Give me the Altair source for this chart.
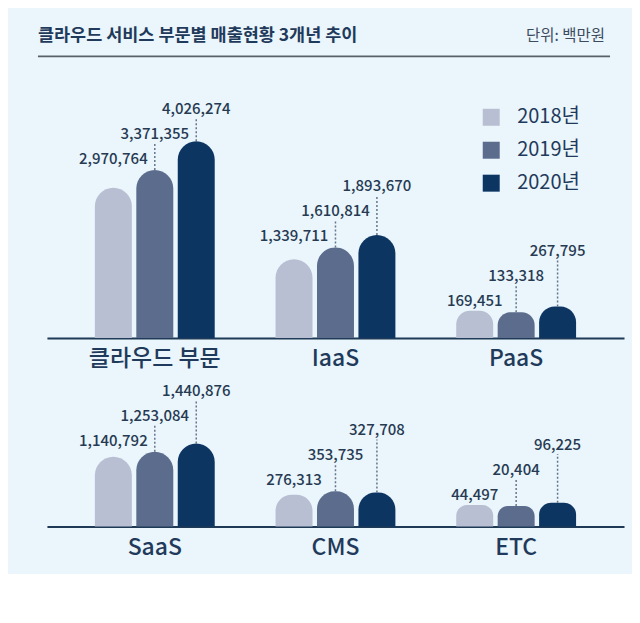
import altair as alt
import pandas as pd

TITLE = "클라우드 서비스 부문별 매출현황 3개년 추이"
UNIT = "단위: 백만원"

categories = ["클라우드 부문", "IaaS", "PaaS", "SaaS", "CMS", "ETC"]
rows = [1, 1, 1, 2, 2, 2]
years = ["2018년", "2019년", "2020년"]
sales_2018 = [2970764, 1339711, 169451, 1140792, 276313, 44497]
sales_2019 = [3371355, 1610814, 133318, 1253084, 353735, 20404]
sales_2020 = [4026274, 1893670, 267795, 1440876, 327708, 96225]
colors = ["#b9bfd2", "#5b6c8d", "#0d3562"]

F = "Noto Sans CJK KR"
NAVY = "#1f3a5a"
PX = 1e6 / 44.0          # data units per pixel
BASE = -0.45e6           # bar floor (stylised infographic base)

records = []
for i, c in enumerate(categories):
    vals = [sales_2018[i], sales_2019[i], sales_2020[i]]
    for j, y in enumerate(years):
        lp = vals[1] + (36 + 25 * (j - 1)) * PX
        records.append(dict(cat=c, year=y, value=vals[j], row=rows[i],
                            label_pos=lp, rule_top=lp - 9 * PX))
df = pd.DataFrame(records)

legend = alt.Legend(title=None, orient="none", legendX=435, legendY=89,
                    symbolType="square", symbolSize=289, symbolStrokeWidth=0,
                    labelFontSize=20, labelFont=F, labelColor=NAVY,
                    rowPadding=13, labelOffset=16)


def row_chart(r, height):
    d = df[df.row == r]
    cats = [c for c, rr in zip(categories, rows) if rr == r]
    ymax = height * PX + BASE
    yscale = alt.Scale(domain=[BASE, ymax], nice=False, zero=False)
    x = alt.X("cat:N", sort=cats,
              scale=alt.Scale(paddingInner=0, paddingOuter=0.097),
              axis=alt.Axis(title=None, labelAngle=0, ticks=False, tickSize=0,
                            domainColor="#1e3a56", domainWidth=2,
                            labelFontSize=23, labelFont=F, labelColor=NAVY,
                            labelFontWeight=500,
                            labelPadding=10, grid=False))
    xo = alt.XOffset("year:N", sort=years,
                     scale=alt.Scale(paddingInner=0.108, paddingOuter=0.734))
    base = alt.Chart(d).encode(x=x, xOffset=xo)
    bars = base.mark_bar(cornerRadiusTopLeft=18.5, cornerRadiusTopRight=18.5).encode(
        y=alt.Y("value:Q", scale=yscale, axis=None),
        y2=alt.datum(BASE),
        color=alt.Color("year:N", sort=years,
                        scale=alt.Scale(domain=years, range=colors), legend=legend),
    )
    rules = base.transform_filter("datum.year != '2018년'").mark_rule(
        strokeDash=[2, 2], color="#66768a", strokeWidth=1.5
    ).encode(y=alt.Y("value:Q", scale=yscale, axis=None), y2="rule_top:Q")
    texts = base.mark_text(baseline="middle", fontSize=15, fontWeight=500, font=F,
                           color="#263a52").encode(
        y=alt.Y("label_pos:Q", scale=yscale, axis=None),
        text=alt.Text("value:Q", format=","),
    )
    return alt.layer(bars, rules, texts).properties(width=578, height=height)


hdr = pd.DataFrame({"t": [TITLE], "u": [UNIT]})
h = alt.Chart(hdr)
title_t = h.mark_text(align="left", baseline="middle", fontSize=17.5, fontWeight="bold",
                      color=NAVY, font=F).encode(x=alt.value(-9), y=alt.value(18), text="t:N")
unit_t = h.mark_text(align="right", baseline="middle", fontSize=15.5,
                     color="#3d4b5e", font=F).encode(x=alt.value(559), y=alt.value(18), text="u:N")
line = h.mark_rule(color="#5a6068", strokeWidth=2).encode(
    x=alt.value(-9), x2=alt.value(564), y=alt.value(38))
header = alt.layer(title_t, unit_t, line).properties(width=578, height=58)

chart = alt.vconcat(header, row_chart(1, 249), row_chart(2, 141), spacing=13).properties(
    padding={"left": 29, "top": 10, "right": 8, "bottom": 14},
    background="#eaf5fc",
).configure_view(stroke=None)

chart.save("out.html", embed_options={"renderer": "svg", "actions": False})
